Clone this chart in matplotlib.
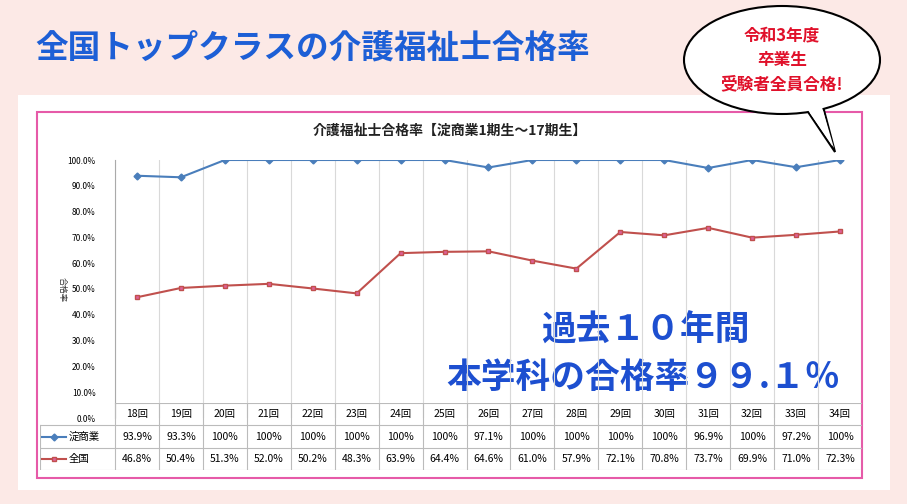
import matplotlib
matplotlib.use("Agg")
import matplotlib.pyplot as plt
from matplotlib.patches import Rectangle, Ellipse, Polygon

plt.rcParams["font.family"] = ["Noto Sans CJK JP", "DejaVu Sans"]

rounds = ["18回","19回","20回","21回","22回","23回","24回","25回","26回","27回","28回","29回","30回","31回","32回","33回","34回"]
yodo = [93.9,93.3,100,100,100,100,100,100,97.1,100,100,100,100,96.9,100,97.2,100]
zenkoku = [46.8,50.4,51.3,52.0,50.2,48.3,63.9,64.4,64.6,61.0,57.9,72.1,70.8,73.7,69.9,71.0,72.3]
yodo_lbl = ["93.9%","93.3%","100%","100%","100%","100%","100%","100%","97.1%","100%","100%","100%","100%","96.9%","100%","97.2%","100%"]
zen_lbl = ["46.8%","50.4%","51.3%","52.0%","50.2%","48.3%","63.9%","64.4%","64.6%","61.0%","57.9%","72.1%","70.8%","73.7%","69.9%","71.0%","72.3%"]
series_names = ["淀商業", "全国"]

W, H = 907, 504
fig = plt.figure(figsize=(W/100, H/100), dpi=100)
fig.patch.set_facecolor("#fce9e6")

def fx(x): return x / W
def fy(y): return 1 - y / H

bg = fig.add_axes([0, 0, 1, 1]); bg.set_xlim(0, W); bg.set_ylim(H, 0); bg.axis("off")
bg.add_patch(Rectangle((18, 95), 872, 395, facecolor="white", edgecolor="none"))
bg.add_patch(Rectangle((37, 112), 825, 366, facecolor="none", edgecolor="#e65aa8", lw=1.5))
bg.text(35, 48, "全国トップクラスの介護福祉士合格率", color="#1d5fd6", fontsize=23.5, fontweight="bold", va="center")
bg.text(450, 131, "介護福祉士合格率【淀商業1期生～17期生】", fontsize=10, fontweight="bold", ha="center", va="center", color="#222")
bg.text(62, 290, "合格率", fontsize=6, rotation=-90, ha="center", va="center", color="#333")
# bubble
bg.add_patch(Polygon([(800, 100), (835, 152), (820, 95)], facecolor="white", edgecolor="black", lw=1.5, zorder=5))
bg.add_patch(Ellipse((782, 60), 196, 108, facecolor="white", edgecolor="black", lw=1.5, zorder=6))
bg.add_patch(Polygon([(801, 100), (834, 148), (819, 97)], facecolor="white", edgecolor="none", zorder=7))
bg.text(782, 60, "令和3年度\n卒業生\n受験者全員合格!", color="#e0102a", fontsize=12, fontweight="bold", ha="center", va="center", linespacing=1.45, zorder=8)
bg.text(645, 330, "過去１０年間", color="#1d4fd0", fontsize=25, fontweight="bold", ha="center", va="center")
bg.text(643, 377, "本学科の合格率９９.１％", color="#1d4fd0", fontsize=25, fontweight="bold", ha="center", va="center")

# plot axes
x0, x1 = 115, 862
ax = fig.add_axes([fx(x0), fy(418), fx(x1 - x0), fy(160) - fy(418)])
n = len(rounds)
xs = list(range(n))
ax.set_xlim(-0.5, n - 0.5)
ax.set_ylim(0, 100)
ax.set_facecolor("none")
for i in range(n + 1):
    ax.axvline(i - 0.5, color="#d9d9d9", lw=0.8)
ax.plot(xs, yodo, color="#4a7ebb", marker="D", ms=3.5, lw=1.5)
ax.plot(xs, zenkoku, color="#c0504d", marker="s", ms=3.5, mfc="#e0609a", mec="#c0504d", lw=1.5)
ax.set_yticks(range(0, 101, 10))
ax.set_yticklabels([f"{v}.0%" for v in range(0, 101, 10)], fontsize=6)
ax.set_xticks([])
for s in ["top", "right", "bottom"]:
    ax.spines[s].set_visible(False)
ax.spines["left"].set_color("#aaaaaa")
ax.tick_params(axis="y", length=0, pad=14)

# table
tab = fig.add_axes([fx(40), fy(470), fx(x1 - 40), fy(403) - fy(470)])
tab.set_xlim(-0.5 - (115 - 40) / ((x1 - x0) / n), n - 0.5)
tab.set_ylim(3, 0)
tab.axis("off")
L = tab.get_xlim()[0]
for r in range(4):
    tab.plot([L if r > 0 else -0.5, n - 0.5], [r, r], color="#bbbbbb", lw=0.8)
for i in range(n + 1):
    tab.plot([i - 0.5, i - 0.5], [0, 3], color="#bbbbbb", lw=0.8)
tab.plot([L, L], [1, 3], color="#bbbbbb", lw=0.8)
for i in range(n):
    tab.text(i, 0.5, rounds[i], ha="center", va="center", fontsize=7.5)
    tab.text(i, 1.5, yodo_lbl[i], ha="center", va="center", fontsize=7.5)
    tab.text(i, 2.5, zen_lbl[i], ha="center", va="center", fontsize=7.5)
for r, (name, col, mk, mfc) in enumerate([(series_names[0], "#4a7ebb", "D", "#4a7ebb"), (series_names[1], "#c0504d", "s", "#e0609a")]):
    tab.plot([L + 0.05, L + 0.6], [1.5 + r, 1.5 + r], color=col, lw=1.5)
    tab.plot([L + 0.32], [1.5 + r], marker=mk, color=col, mfc=mfc, ms=3.5)
    tab.text(L + 0.65, 1.5 + r, name, va="center", fontsize=7.5)

fig.savefig("out.png", dpi=100, facecolor=fig.get_facecolor())
